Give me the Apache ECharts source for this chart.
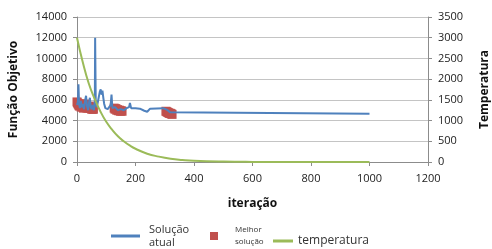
<!DOCTYPE html>
<html><head><meta charset="utf-8">
<script src="https://cdn.jsdelivr.net/npm/echarts@6/dist/echarts.min.js"></script>
<style>html,body{margin:0;padding:0;background:#fff}#c{width:492px;height:249px}</style>
</head><body><div id="c"></div>
<script>
// Solução atual: [iteração, valor]
const atualX = [0,3,5,7,10,13,16,20,24,28,31,34,38,41,44,47,50,54,58,61,62,64,67,70,74,78,81,84,87,90,93,97,100,105,110,115,118,121,125,130,140,150,160,170,178,181,185,190,200,215,230,240,250,295,310,318,320,1000];
const atualY = [5500,5800,7500,5600,5200,5900,5300,5600,5100,6000,6400,5400,5000,5700,6200,5300,5100,5500,5000,6000,12000,6000,5300,5600,6200,6800,7000,6500,6900,6200,5600,5200,5300,5100,5300,5500,6500,5200,5100,5300,5000,5100,5000,5200,5300,5700,5200,5200,5200,5150,4950,4850,5150,5200,5000,4800,4650,4650];
// Melhor solução
const melhorX = [0,2,4,6,8,10,12,14,16,18,20,22,24,26,28,30,32,34,36,38,40,42,44,46,48,50,52,54,56,127,130,133,136,139,142,145,148,151,154,304,307,310,313,316,319,322,325];
const melhorY = [5800,5700,5600,5500,5400,5600,5500,5300,5400,5600,5300,5200,5500,5400,5300,5600,5400,5200,5300,5300,5200,5400,5300,5200,5200,5100,5200,5100,5100,5200,5100,5150,5000,5050,4950,5000,4900,4950,4900,4900,4850,4800,4750,4700,4700,4650,4600];
// temperatura (eixo secundário)
const tempX = [0,20,40,60,80,100,120,140,160,180,200,240,280,320,360,400,500,600,800,1000];
const tempY = [3000,2400,1900,1530,1220,970,780,620,500,400,320,200,130,80,50,30,10,3,0,0];
const xTicks = [0,200,400,600,800,1000,1200];

const zip = (a,b)=>a.map((v,i)=>[v,b[i]]);
const font = 'Open Sans';
const plain = v => String(v);
const chart = echarts.init(document.getElementById('c'));
chart.setOption({
  animation:false,
  textStyle:{fontFamily:font},
  grid:{left:77,right:64,top:17,bottom:87,outerBoundsMode:'none',containLabel:false},
  xAxis:{type:'value',min:0,max:1200,interval:200,
    name:'iteração',nameLocation:'middle',nameGap:36,
    nameTextStyle:{fontFamily:font,fontWeight:'bold',fontSize:12,color:'#111'},
    axisLine:{lineStyle:{color:'#8c8c8c'}},
    axisTick:{show:true,length:4,lineStyle:{color:'#8c8c8c'}},
    axisLabel:{color:'#222',fontSize:11,margin:11,formatter:plain},
    splitLine:{show:false}},
  yAxis:[{type:'value',min:0,max:14000,interval:2000,
    name:'Função Objetivo',nameLocation:'middle',nameGap:57,
    nameTextStyle:{fontFamily:font,fontWeight:'bold',fontSize:12,color:'#111'},
    axisLine:{show:true,lineStyle:{color:'#8c8c8c'}},
    axisTick:{show:true,length:4,lineStyle:{color:'#8c8c8c'}},
    axisLabel:{color:'#222',fontSize:11,margin:10,formatter:plain},
    splitLine:{lineStyle:{color:'#c4c4c4'}}},
   {type:'value',min:0,max:3500,interval:500,
    name:'Temperatura',nameLocation:'middle',nameGap:51,nameRotate:90,
    nameTextStyle:{fontFamily:font,fontWeight:'bold',fontSize:12,color:'#111'},
    axisLine:{show:true,lineStyle:{color:'#8c8c8c'}},
    axisTick:{show:true,length:4,lineStyle:{color:'#8c8c8c'}},
    axisLabel:{color:'#222',fontSize:11,margin:10,formatter:plain},
    splitLine:{show:false}}],
  legend:[
    {data:[{name:'Solução atual',icon:'rect'}],left:106,top:218,itemWidth:29,itemHeight:3,
     formatter:()=> 'Solução\natual',
     textStyle:{fontFamily:font,fontSize:11,color:'#333',lineHeight:13,padding:[0,0,0,4]}},
    {data:[{name:'Melhor solução',icon:'rect'}],left:205,top:219,itemWidth:8,itemHeight:8,
     formatter:()=> 'Melhor\nsolução',
     textStyle:{fontFamily:font,fontSize:8,color:'#333',lineHeight:12,padding:[0,0,0,12]}},
    {data:[{name:'temperatura',icon:'rect'}],left:268,top:230,itemWidth:20,itemHeight:3,
     textStyle:{fontFamily:font,fontSize:12,color:'#333'}}
  ],
  series:[
    {name:'Solução atual',type:'line',data:zip(atualX,atualY),showSymbol:false,
     lineStyle:{color:'#4F81BD',width:2},itemStyle:{color:'#4F81BD'}},
    {name:'Melhor solução',type:'scatter',data:zip(melhorX,melhorY),symbol:'rect',symbolSize:9,
     itemStyle:{color:'#C0504D',opacity:1}},
    {name:'temperatura',type:'line',yAxisIndex:1,data:zip(tempX,tempY),showSymbol:false,smooth:true,
     lineStyle:{color:'#9BBB59',width:2},itemStyle:{color:'#9BBB59'}}
  ]
});
</script></body></html>
